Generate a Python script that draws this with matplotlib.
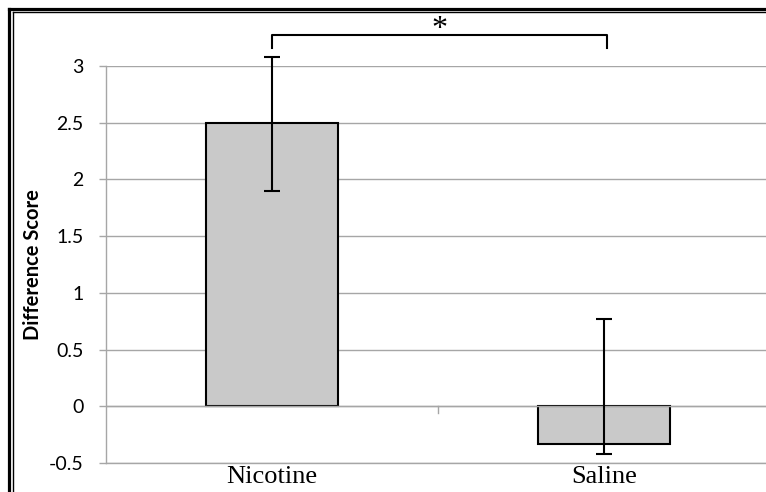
import matplotlib
matplotlib.use("Agg")
import matplotlib.pyplot as plt
from matplotlib.lines import Line2D
import numpy as np

categories = ["Nicotine", "Saline"]
values = [2.50, -0.335]
err_lower = [0.60, 0.085]
err_upper = [0.58, 1.105]
ytick_values = [-0.5, 0, 0.5, 1, 1.5, 2, 2.5, 3]
ytick_labels = ["-0.5", "0", "0.5", "1", "1.5", "2", "2.5", "3"]
ylabel = "Difference Score"
sig_label = "*"

W, H = 766, 492
fig = plt.figure(figsize=(W / 100, H / 100), dpi=100)
ax = fig.add_axes([106 / W, (H - 463) / H, 664 / W, 397 / H])

x = np.arange(len(categories))
grid_c = "#a6a6a6"

for yv in ytick_values:
    ax.axhline(yv, color=grid_c, lw=1.0, zorder=1)

ax.bar(x, values, width=0.4, color="#c9c9c9", edgecolor="black", linewidth=1.5, zorder=2)
ax.axhline(0, color=grid_c, lw=1.0, zorder=2.5)
ax.plot([0.5, 0.5], [0, -0.055], color=grid_c, lw=1.0, zorder=2.5)

eb = ax.errorbar(x, values, yerr=[err_lower, err_upper], fmt="none", ecolor="black",
                 elinewidth=1.5, capsize=6, capthick=1.5, zorder=3)
for art in eb.lines[1]:
    art.set_clip_on(False)
for art in eb.lines[2]:
    art.set_clip_on(False)

ax.set_xlim(-0.5, 1.5)
ax.set_ylim(-0.5, 3)
ax.set_yticks(ytick_values)
ax.set_yticklabels(ytick_labels, fontfamily="Lato", fontsize=14)
ax.set_xticks(x)
ax.set_xticklabels(categories, fontfamily="Liberation Serif", fontsize=19)
ax.tick_params(axis="y", length=5, width=1.0, color=grid_c, pad=11)
ax.tick_params(axis="x", length=0, pad=2)

for s in ["top", "right"]:
    ax.spines[s].set_visible(False)
for s in ["left", "bottom"]:
    ax.spines[s].set_color(grid_c)
    ax.spines[s].set_linewidth(1.0)

ax.set_ylabel(ylabel, fontfamily="Lato", fontweight="bold", fontsize=14.5)
ax.yaxis.set_label_coords((43 - 106) / 664, 0.5)

# significance bracket
bx0, bx1, by, btip = 0.0, 1.01, 3.27, 3.16
ax.plot([bx0, bx0, bx1, bx1], [btip, by, by, btip], color="black", lw=1.5, clip_on=False, zorder=4)
ax.text(0.505, 3.26, sig_label, ha="center", va="baseline", fontfamily="Liberation Serif",
        fontsize=23, clip_on=False)

# double frame border
def px(xp, yp):
    return xp / W, 1 - yp / H

for (xa, lw) in [(9.3, 2.3), (12.5, 1.0)]:
    x0, y0 = px(xa, xa - 0.8)
    x1, y1 = px(xa, H)
    fig.add_artist(Line2D([x0, x1], [y0, y1], color="black", lw=lw))
    xx0, yy0 = px(xa, xa - 0.8)
    xx1, yy1 = px(W, xa - 0.8)
    fig.add_artist(Line2D([xx0, xx1], [yy0, yy1], color="black", lw=lw))

fig.savefig("out.png", dpi=100)
